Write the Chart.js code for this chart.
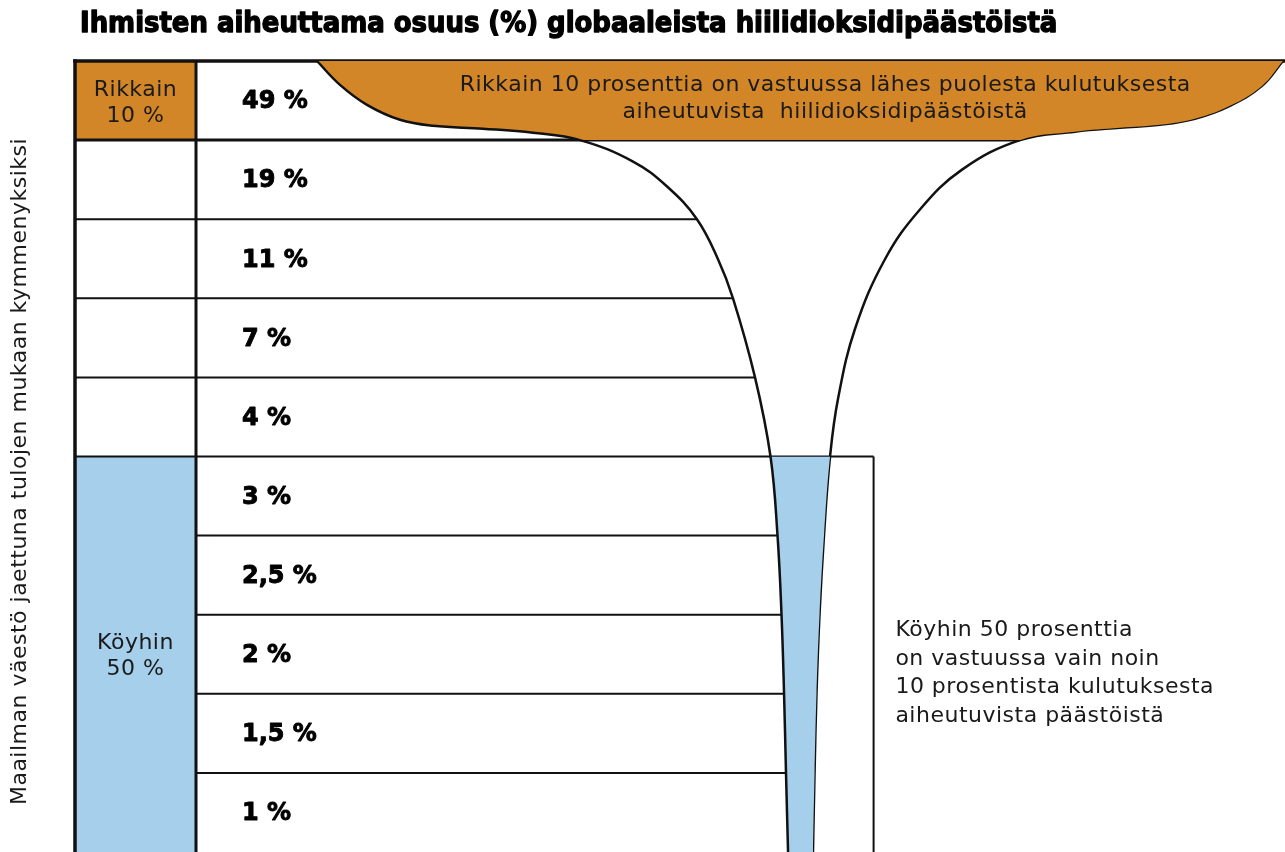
<!DOCTYPE html>
<html lang="fi">
<head>
    <meta charset="UTF-8">
    <meta name="viewport" content="width=device-width, initial-scale=1.0">
    <script src="https://cdn.jsdelivr.net/npm/chart.js"></script>
    <style>
        html, body {
            margin: 0;
            padding: 0;
            background: #fff;
        }

        .chart-wrap {
            width: 1285px;
            height: 852px;
        }
    </style>
    <title>Ihmisten aiheuttama osuus (%) globaaleista hiilidioksidipäästöistä</title>
</head>
<body>
    <div class="chart-wrap">
        <canvas id="glassChart" width="1285" height="852"></canvas>
    </div>
    <script>
        // Päästöosuus (%) kullekin tulokymmenykselle, rikkain ensin
        const shares = [49, 19, 11, 7, 4, 3, 2.5, 2, 1.5, 1];

        // Ryhmät vasemmassa sarakkeessa (kymmenysten alku ja loppu)
        const groupNames = ['Rikkain', 'Köyhin'];
        const groupShares = ['10 %', '50 %'];
        const groupFrom = [0, 5];
        const groupTo = [1, 10];

        // Lasin reunat: x = leveys 0..100, y = kymmenys 0..10 (ylhäältä alas)
        const leftEdgeX = [20, 21.9, 24.13, 26.86, 29.59, 33.72, 37.85, 41.74, 46.12, 48.93, 51.4, 53.14, 54.38, 56.2, 57.48, 58.06, 58.39, 58.6, 58.76, 58.93];
        const leftEdgeY = [0, 0.302, 0.554, 0.743, 0.819, 0.856, 0.907, 1, 1.272, 1.587, 2, 2.506, 3, 4, 5, 6, 7, 8, 9, 10];
        const rightEdgeX = [99.83, 98.1, 95.45, 92.56, 89.67, 86.36, 82.64, 78.1, 73.31, 69.83, 66.94, 64.46, 63.06, 62.4, 61.9, 61.53, 61.28, 61.12, 60.99];
        const rightEdgeY = [0, 0.315, 0.567, 0.73, 0.806, 0.844, 0.894, 1, 1.373, 1.877, 2.506, 3.388, 4.27, 5, 6, 7, 8, 9, 10];

        // Kymmenysten rajaviivat: missä kohtaa viiva alkaa ja päättyy
        const rowLineY = [1, 2, 3, 4, 5, 6, 7, 8, 9];
        const rowLineFrom = [0, 0, 0, 0, 0, 10, 10, 10, 10];
        const rowLineTo = [78.1, 51.4, 54.38, 56.2, 66, 58.06, 58.39, 58.6, 58.76];

        const titleText = 'Ihmisten aiheuttama osuus (%) globaaleista hiilidioksidipäästöistä';
        const axisText = 'Maailman väestö jaettuna tulojen mukaan kymmenyksiksi';
        const richNote = ['Rikkain 10 prosenttia on vastuussa lähes puolesta kulutuksesta', 'aiheutuvista  hiilidioksidipäästöistä'];
        const poorNote = ['Köyhin 50 prosenttia', 'on vastuussa vain noin', '10 prosentista kulutuksesta', 'aiheutuvista päästöistä'];

        const black = '#111111';
        const orange = '#D38627';
        const blue = '#A5CFEA';
        const none = 'rgba(0,0,0,0)';
        const textFont = '"DejaVu Sans", sans-serif';
        const heavyFont = '"DejaVu Sans Condensed", "DejaVu Sans", sans-serif';

        function pts(xs, ys) {
            return xs.map((x, i) => ({ x: x, y: ys[i] }));
        }

        function lineDs(data, extra) {
            return Object.assign({
                data: data,
                borderColor: black,
                borderWidth: 2,
                pointRadius: 0,
                fill: false,
                tension: 0,
                clip: false,
                borderCapStyle: 'butt'
            }, extra);
        }

        // lasin täyttöväri kymmenyksen mukaan: rikkaimmat oranssi, köyhin puolikas sininen
        function bandColor(yv) {
            if (yv < groupTo[0]) return orange;
            if (yv >= groupFrom[1]) return blue;
            return none;
        }

        const datasets = [];

        // lasin reunat (vasen täyttää oikeaan reunaan asti)
        datasets.push(lineDs(pts(leftEdgeX, leftEdgeY), {
            indexAxis: 'y',
            tension: 0.4,
            borderWidth: 2.5,
            borderJoinStyle: 'round',
            backgroundColor: none,
            fill: '+1',
            segment: { backgroundColor: c => bandColor(c.p0.parsed.y) }
        }));
        datasets.push(lineDs(pts(rightEdgeX, rightEdgeY), {
            indexAxis: 'y',
            tension: 0.4,
            borderWidth: 2.5,
            borderJoinStyle: 'round'
        }));

        rowLineY.forEach((yv, i) => {
            datasets.push(lineDs([{ x: rowLineFrom[i], y: yv }, { x: rowLineTo[i], y: yv }], { borderWidth: yv === 1 ? 3 : 2 }));
        });

        // kehys: yläreuna, vasen reuna, sarakeraja, köyhimpien laatikon oikea reuna
        datasets.push(lineDs([{ x: 0, y: 0 }, { x: 100, y: 0 }], { borderWidth: 3.5, borderCapStyle: 'square' }));
        datasets.push(lineDs([{ x: 0, y: 0 }, { x: 0, y: 10 }], { borderWidth: 3.5, borderCapStyle: 'square' }));
        datasets.push(lineDs([{ x: 10, y: 0 }, { x: 10, y: 10 }], { borderWidth: 3 }));
        datasets.push(lineDs([{ x: 66, y: 5 }, { x: 66, y: 10 }], { borderWidth: 2 }));

        // vasemman sarakkeen väritetyt solut
        const groupColors = [orange, blue];
        groupNames.forEach((g, i) => {
            datasets.push({
                data: [
                    { x: 0, y: groupFrom[i] }, { x: 10, y: groupFrom[i] },
                    { x: 10, y: groupTo[i] }, { x: 0, y: groupTo[i] },
                    { x: 0, y: groupFrom[i] }
                ],
                borderWidth: 0,
                borderColor: none,
                backgroundColor: groupColors[i],
                pointRadius: 0,
                fill: 'shape',
                clip: false
            });
        });

        function shareLabel(v) {
            return String(v).replace('.', ',') + ' %';
        }

        function heavyText(ctx, text, x, y, stroke) {
            ctx.fillText(text, x, y);
            ctx.lineWidth = stroke;
            ctx.strokeText(text, x, y);
        }

        const textPlugin = {
            id: 'glassTexts',
            afterDatasetsDraw(chart) {
                const ctx = chart.ctx;
                const x = chart.scales.x;
                const y = chart.scales.y;
                const area = chart.chartArea;
                ctx.save();
                ctx.fillStyle = '#000';
                ctx.strokeStyle = '#000';
                ctx.lineJoin = 'round';
                ctx.textBaseline = 'middle';

                // otsikko, sovitettu leveyteen
                ctx.textAlign = 'left';
                ctx.font = 'bold 27px ' + heavyFont;
                const wanted = x.getPixelForValue(80.8) - area.left;
                const size = 27 * wanted / ctx.measureText(titleText).width;
                ctx.font = 'bold ' + size.toFixed(2) + 'px ' + heavyFont;
                heavyText(ctx, titleText, area.left + 5, 25, 1.3);

                // osuudet riveittäin
                ctx.font = 'bold 24px ' + textFont;
                shares.forEach((s, i) => {
                    heavyText(ctx, shareLabel(s), x.getPixelForValue(13.8), y.getPixelForValue(i + 0.52), 0.9);
                });

                // tavalliset tekstit hieman harvennettuina
                ctx.fillStyle = '#1a1a1a';
                ctx.font = '22px ' + textFont;
                ctx.letterSpacing = '0.5px';
                const shift = 2.5;

                // ryhmien nimet
                ctx.textAlign = 'center';
                groupNames.forEach((g, i) => {
                    const cx = x.getPixelForValue(5);
                    const cy = y.getPixelForValue((groupFrom[i] + groupTo[i]) / 2) + shift;
                    ctx.fillText(g, cx, cy - 13);
                    ctx.fillText(groupShares[i], cx, cy + 13);
                });

                // huomautus oranssissa alueessa
                const rx = x.getPixelForValue(62);
                const ry = y.getPixelForValue(0.46) + 1;
                ctx.fillText(richNote[0], rx, ry - 13.5);
                ctx.fillText(richNote[1], rx, ry + 13.5);

                // huomautus köyhimmistä
                ctx.textAlign = 'left';
                const px = x.getPixelForValue(67.8);
                const py = y.getPixelForValue(7.71) + shift;
                poorNote.forEach((t, i) => {
                    ctx.fillText(t, px, py + (i - 1.5) * 28.7);
                });

                // pystyakselin otsikko
                ctx.translate(20, (area.top + area.bottom) / 2 + 15);
                ctx.rotate(-Math.PI / 2);
                ctx.textAlign = 'center';
                ctx.fillText(axisText, 0, 0);
                ctx.restore();
            }
        };

        const ctx = document.getElementById('glassChart').getContext('2d');
        new Chart(ctx, {
            type: 'line',
            data: { datasets: datasets },
            options: {
                responsive: false,
                animation: false,
                layout: { padding: { left: 75, top: 61, right: 0, bottom: -3 } },
                scales: {
                    x: { type: 'linear', min: 0, max: 100, display: false },
                    y: { type: 'linear', min: 0, max: 10, reverse: true, display: false }
                },
                plugins: {
                    legend: { display: false },
                    tooltip: { enabled: false }
                },
                events: []
            },
            plugins: [textPlugin]
        });
    </script>
</body>
</html>
